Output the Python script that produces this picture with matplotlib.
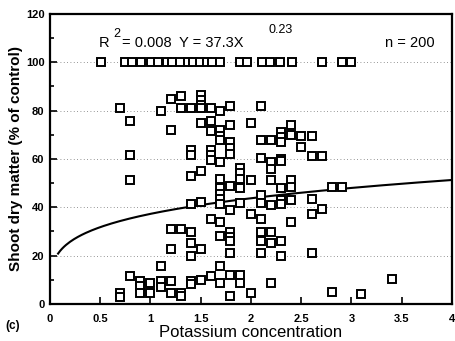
import numpy as np
import matplotlib
matplotlib.use("Agg")
import matplotlib.pyplot as plt
import matplotlib.ticker as ticker

# Points, grouped by potassium column
pot_full = [0.51, 0.75, 0.82, 0.91, 1.01, 1.07, 1.16, 1.21, 1.29, 1.37, 1.42,
            1.49, 1.56, 1.61, 1.69, 1.89, 1.96, 2.11, 2.19, 2.29, 2.41, 2.71,
            2.91, 3.0]
dry_full = [100] * len(pot_full)

columns = {
    0.70: [80.9, 4.4, 3.0],
    0.80: [75.6, 61.6, 51.5, 11.6],
    0.90: [9.7, 7.5, 4.4],
    1.00: [8.5, 4.4],
    1.10: [79.8, 15.7, 9.7, 7.2],
    1.20: [85.0, 71.8, 30.9, 22.7, 9.5, 4.4],
    1.30: [86.0, 80.9, 30.9, 4.4, 3.2],
    1.40: [80.9, 63.6, 61.6, 52.8, 41.2, 29.8, 25.1, 19.8, 9.7, 8.2],
    1.50: [86.4, 84.3, 82.2, 80.9, 74.9, 55.0, 42.0, 22.7, 9.8],
    1.60: [80.9, 75.8, 71.7, 63.6, 61.6, 59.5, 35.0, 11.6],
    1.69: [80.0, 71.9, 69.6, 67.8, 58.6, 51.9, 47.8, 45.5, 43.4, 41.2, 34.0,
           28.0, 15.7, 8.5],
    1.79: [81.9, 74.0, 67.1, 64.5, 62.0, 49.0, 38.9, 29.9, 27.9, 25.9, 20.9,
           11.8, 3.3],
    1.89: [56.1, 54.0, 51.9, 48.2, 41.9, 12.0, 8.7],
    2.00: [74.9, 51.2, 37.1, 4.4],
    2.10: [81.9, 67.8, 60.5, 45.0, 41.9, 35.0, 29.9, 26.1, 21.0],
    2.20: [67.8, 58.8, 55.7, 51.2, 40.9, 29.9, 25.2, 8.7],
    2.30: [71.2, 69.1, 67.1, 60.2, 59.0, 48.0, 43.0, 41.5, 26.1, 19.8],
    2.40: [74.2, 69.8, 51.2, 48.3, 43.1, 34.0],
    2.50: [69.6, 65.0],
    2.61: [69.6, 61.1, 43.3, 37.1, 21.3],
    2.71: [61.3, 39.3],
    2.81: [48.4, 4.8],
    2.91: [48.4],
    3.10: [4.2],
    3.40: [10.5],
}

# fitted power model Y = a * X^b
fit_a = 37.3
fit_b = 0.23

pot = list(pot_full)
dry = list(dry_full)
for k, vals in columns.items():
    pot += [k] * len(vals)
    dry += vals

fig = plt.figure(figsize=(4.55, 3.41), dpi=100)
ax = fig.add_axes([0.110, 0.1085, 0.883, 0.8505])

for yv in [20, 40, 60, 80, 100]:
    ax.axhline(yv, color="0.45", lw=0.6, ls=(0, (1, 3)), zorder=0)

ax.plot(pot, dry, "s", ms=5.5, mfc="white", mec="black", mew=1.4,
        linestyle="none", zorder=3)

xs = np.linspace(0.08, 4.0, 200)
ax.plot(xs, fit_a * xs ** fit_b, color="black", lw=1.5, zorder=2)

ax.set_xlim(0, 4)
ax.set_ylim(0, 120)
ax.xaxis.set_major_locator(ticker.MultipleLocator(0.5))
ax.xaxis.set_major_formatter(ticker.FuncFormatter(lambda v, p: f"{v:g}"))
ax.yaxis.set_major_locator(ticker.MultipleLocator(20))
ax.yaxis.set_minor_locator(ticker.MultipleLocator(10))
ax.tick_params(axis="both", which="both", direction="in", top=False,
               right=False, width=1.2)
ax.tick_params(axis="both", which="major", length=5, labelsize=8, pad=4)
ax.tick_params(axis="x", which="major", pad=7)
ax.tick_params(axis="y", which="minor", length=3)
for lab in ax.get_xticklabels() + ax.get_yticklabels():
    lab.set_fontweight("bold")
    lab.set_family("Liberation Sans")
for s in ax.spines.values():
    s.set_linewidth(1.6)

ax.set_xlabel("Potassium concentration", fontsize=12, family="Liberation Sans",
              labelpad=1)
ax.set_ylabel("Shoot dry matter (% of control)", fontsize=11,
              fontweight="bold", family="Liberation Sans", labelpad=2)

tkw = dict(fontsize=10.5, family="Liberation Sans", va="baseline")
ax.text(0.48, 106.5, "R", **tkw)
ax.text(0.63, 110.5, "2", fontsize=9, family="Liberation Sans")
ax.text(0.72, 106.5, "= 0.008", **tkw)
ax.text(1.28, 106.5, "Y = 37.3X", **tkw)
ax.text(2.17, 112.0, "0.23", fontsize=9, family="Liberation Sans")
ax.text(3.33, 106.5, "n = 200", **tkw)

fig.text(0.012, 0.035, "(c)", fontsize=8.5, fontweight="bold",
         family="Liberation Sans")

fig.savefig("out.png", dpi=100)
